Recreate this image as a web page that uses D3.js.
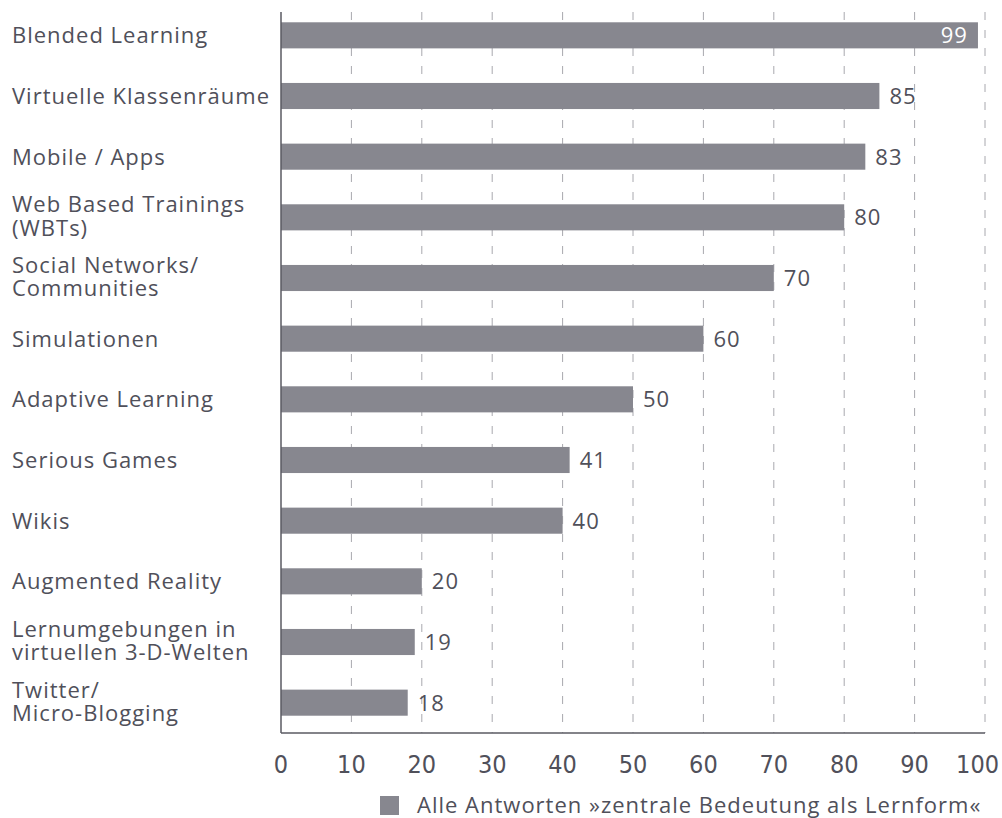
<!DOCTYPE html>
<html>
<head>
<meta charset="utf-8">
<script src="https://cdn.jsdelivr.net/npm/d3@7"></script>
<style>
  body { margin: 0; background: #fff; }
  svg text { font-family: "Open Sans", sans-serif; fill: #50505a; letter-spacing: 1px; }
  .tick-label { font-family: "Liberation Sans Narrow", "DejaVu Sans Condensed", sans-serif; letter-spacing: 0; }
</style>
</head>
<body>
<svg width="1002" height="818"></svg>
<script>
const svg = d3.select('svg');

// data
const categories = [
    ['Blended Learning'],
    ['Virtuelle Klassenräume'],
    ['Mobile / Apps'],
    ['Web Based Trainings', '(WBTs)'],
    ['Social Networks/', 'Communities'],
    ['Simulationen'],
    ['Adaptive Learning'],
    ['Serious Games'],
    ['Wikis'],
    ['Augmented Reality'],
    ['Lernumgebungen in', 'virtuellen 3-D-Welten'],
    ['Twitter/', 'Micro-Blogging']
];
const values = [99, 85, 83, 80, 70, 60, 50, 41, 40, 20, 19, 18];
const xTicks = [0, 10, 20, 30, 40, 50, 60, 70, 80, 90, 100];
const legendLabel = 'Alle Antworten »zentrale Bedeutung als Lernform«';

const data = categories.map((c, i) => ({ label: c, key: c.join(' '), value: values[i] }));

const barColor = '#87878f';
const plotLeft = 281, plotRight = 985, plotTop = 5, plotBottom = 733;

const xScale = d3.scaleLinear()
    .domain([0, 100])
    .range([plotLeft, plotRight]);

const yScale = d3.scaleBand()
    .domain(data.map(d => d.key))
    .range([plotTop, plotBottom])
    .paddingInner(0.57)
    .paddingOuter(0.285);

// dashed vertical grid
svg.append('g')
    .selectAll('line').data(xTicks.slice(1))
    .enter().append('line')
        .attr('x1', d => xScale(d))
        .attr('x2', d => xScale(d))
        .attr('y1', 12)
        .attr('y2', plotBottom)
        .attr('stroke', '#a8a8ae')
        .attr('stroke-width', 1)
        .attr('stroke-dasharray', '8,10');

// bars
svg.append('g')
    .selectAll('rect').data(data)
    .enter().append('rect')
        .attr('x', xScale(0))
        .attr('y', d => yScale(d.key))
        .attr('width', d => xScale(d.value) - xScale(0))
        .attr('height', yScale.bandwidth())
        .attr('fill', barColor);

// value labels (the top one sits inside its bar)
const inside = d => d.value > 95;
svg.append('g')
    .selectAll('text').data(data)
    .enter().append('text')
        .attr('x', d => inside(d) ? xScale(d.value) - 10 : xScale(d.value) + 10)
        .attr('y', d => yScale(d.key) + yScale.bandwidth() / 2)
        .attr('dy', '0.36em')
        .attr('text-anchor', d => inside(d) ? 'end' : 'start')
        .style('fill', d => inside(d) ? '#fff' : '#50505a')
        .attr('font-size', 22)
        .text(d => d.value);

// category labels
const catText = svg.append('g')
    .selectAll('text').data(data)
    .enter().append('text')
        .attr('x', 12)
        .attr('y', d => yScale(d.key) + yScale.bandwidth() / 2)
        .attr('font-size', 22);
catText.selectAll('tspan').data(d => d.label.map((t, i) => ({ t, i, n: d.label.length })))
    .enter().append('tspan')
        .attr('x', 12)
        .attr('dy', d => d.i === 0 ? (d.n > 1 ? '-0.22em' : '0.36em') : '1.05em')
        .text(d => d.t);

// axis lines
svg.append('line')
    .attr('x1', plotLeft).attr('x2', plotLeft)
    .attr('y1', 12).attr('y2', plotBottom)
    .attr('stroke', '#5a5a62').attr('stroke-width', 1.5);
svg.append('line')
    .attr('x1', plotLeft).attr('x2', plotRight)
    .attr('y1', plotBottom).attr('y2', plotBottom)
    .attr('stroke', '#5a5a62').attr('stroke-width', 1.5);

// x tick labels (the last one is kept inside the picture)
svg.append('g')
    .selectAll('text').data(xTicks)
    .enter().append('text')
        .attr('class', 'tick-label')
        .attr('x', d => d === 100 ? 999 : xScale(d))
        .attr('y', 764)
        .attr('dy', '0.36em')
        .attr('text-anchor', d => d === 100 ? 'end' : 'middle')
        .attr('font-size', 25)
        .text(d => d);

// legend
const legend = svg.append('g').attr('transform', 'translate(380, 796)');
legend.append('rect')
    .attr('width', 19).attr('height', 19)
    .attr('fill', barColor);
legend.append('text')
    .attr('x', 37)
    .attr('y', 17)
    .attr('font-size', 22)
    .text(legendLabel);
</script>
</body>
</html>
